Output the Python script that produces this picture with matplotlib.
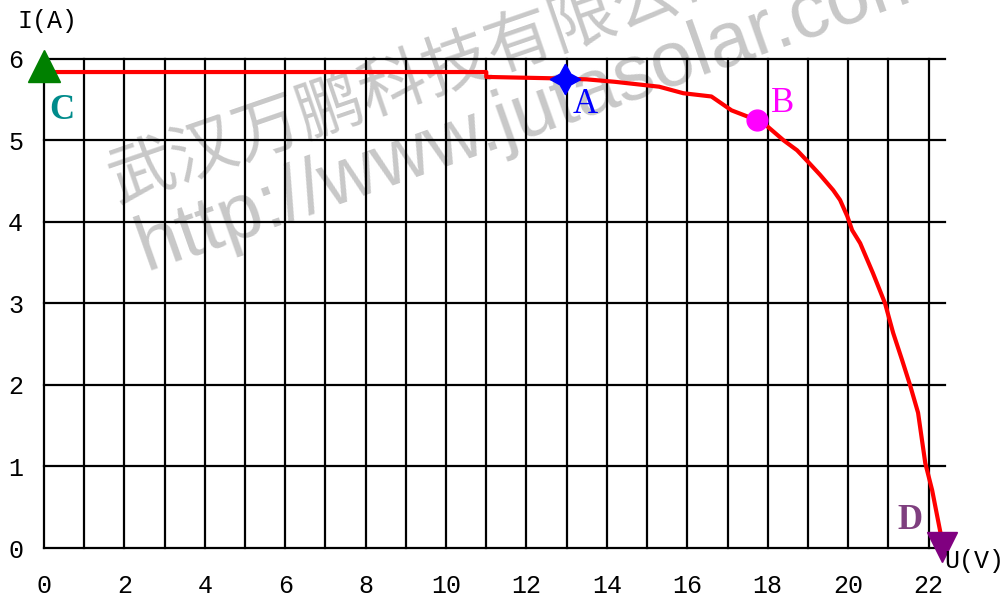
import matplotlib
matplotlib.use("Agg")
import matplotlib.pyplot as plt

# I-V curve of the solar panel
volts = [0, 11.0, 11.0, 12.96, 13.5, 14.2, 15.3, 15.9, 16.6, 17.1, 17.73, 18.0, 18.4,
         18.73, 19.0, 19.3, 19.63, 19.8, 19.98, 20.1, 20.3, 20.62, 20.92, 21.12, 21.34,
         21.54, 21.74, 21.92, 22.09, 22.3]
amps = [5.84, 5.84, 5.78, 5.76, 5.75, 5.72, 5.66, 5.58, 5.54, 5.37, 5.25, 5.17, 5.0,
        4.88, 4.74, 4.58, 4.39, 4.27, 4.07, 3.9, 3.74, 3.37, 3.0, 2.64, 2.31,
        2.0, 1.66, 1.04, 0.71, 0.18]

# marked points
pt_names = ["A", "B", "C", "D"]
pt_u = [12.96, 17.73, 0.0, 22.34]
pt_i = [5.76, 5.25, 5.92, 0.01]

x_ticks = list(range(0, 23))
y_ticks = list(range(0, 7))

fig = plt.figure(figsize=(10.08, 6.02), dpi=100)
fig.patch.set_facecolor("white")
ax = fig.add_axes([0.0437, 0.0897, 0.8934, 0.8123])
ax.set_facecolor("none")
ax.set_zorder(1)

ax.set_xlim(0, 22.4)
ax.set_ylim(0, 6)

# grid: every volt and every amp
for xv in x_ticks:
    ax.plot([xv, xv], [0, 6], color="black", lw=1.6, zorder=1, clip_on=False)
for yv in y_ticks:
    ax.plot([0, 22.4], [yv, yv], color="black", lw=1.6, zorder=1, clip_on=False)

for s in ax.spines.values():
    s.set_visible(False)

ax.set_xticks(x_ticks)
ax.set_xticklabels([str(v) if v % 2 == 0 else "" for v in x_ticks])
ax.set_yticks(y_ticks)
ax.set_yticklabels([str(v) for v in y_ticks])
ax.tick_params(length=0, labelsize=18)
ax.tick_params(axis="x", pad=19)
ax.tick_params(axis="y", pad=15)
for lab in ax.get_xticklabels() + ax.get_yticklabels():
    lab.set_fontfamily("Liberation Mono")

# the curve
ax.plot(volts, amps, color="red", lw=3, zorder=3, clip_on=False)

# markers
styles = {
    "A": dict(marker=(4, 1, 0), color="#0000ff", ms=22),
    "B": dict(marker="o", color="#ff00ff", ms=15),
    "C": dict(marker="^", color="#008000", ms=23),
    "D": dict(marker="v", color="#800080", ms=21),
}
for name, u, i in zip(pt_names, pt_u, pt_i):
    ax.plot(u, i, linestyle="none", zorder=4, clip_on=False, **styles[name])

label_pos = {"A": (13.46, 5.44, "#0000ff", "normal"),
             "B": (18.38, 5.46, "#ff00ff", "normal"),
             "C": (0.45, 5.37, "#008b8b", "bold"),
             "D": (21.54, 0.34, "#7f3f7f", "bold")}
for name in pt_names:
    lx, ly, col, wt = label_pos[name]
    ax.text(lx, ly, name, color=col, fontsize=25, fontweight=wt,
            family="Liberation Serif", ha="center", va="center", zorder=5)

# axis names
fig.text(0.017, 0.965, "I(A)", fontsize=18, family="Liberation Mono", va="center")
fig.text(0.937, 0.068, "U(V)", fontsize=18, family="Liberation Mono", va="center")

# watermark
fig.text(0.115, 0.665, "武汉万鹏科技有限公司", fontsize=48, color="#c8c8c8",
         rotation=19, rotation_mode="anchor", ha="left", va="baseline",
         family=["Noto Sans CJK SC", "DejaVu Sans"], zorder=-1)
fig.text(0.145, 0.55, "http://www.jutasolar.com", fontsize=56, color="#c8c8c8",
         rotation=19.5, rotation_mode="anchor", ha="left", va="baseline",
         family=["Liberation Sans", "DejaVu Sans"], zorder=-1)

fig.savefig("out.png", dpi=100)
